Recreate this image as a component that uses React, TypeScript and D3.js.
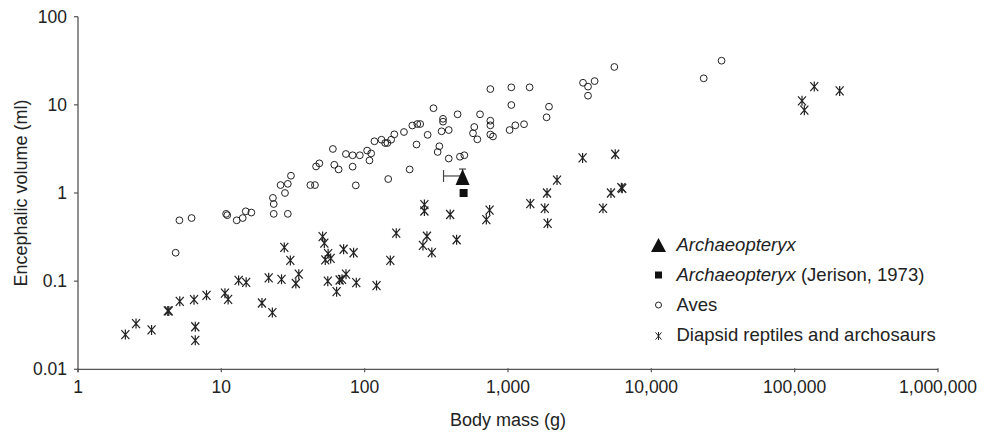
import * as d3 from 'd3';

// Body mass (g), encephalic volume (ml)
const avesData: [number, number][] = [
  [4.8, 0.21], [5.1, 0.49], [6.2, 0.52], [10.8, 0.58], [11, 0.56], [12.8, 0.49],
  [14.1, 0.52], [14.8, 0.62], [16.2, 0.6], [22.9, 0.88], [23.2, 0.75], [23.2, 0.58],
  [29.1, 0.58], [25.9, 1.23], [29.1, 1.27], [30.6, 1.57], [27.8, 1.0], [41.8, 1.23],
  [45, 1.23], [45.8, 2.0], [48.3, 2.17], [60, 3.16], [61.4, 2.09], [65.8, 1.85],
  [74, 2.77], [82.4, 2.68], [82.4, 1.99], [86.7, 1.22], [92.5, 2.68], [104, 3.03],
  [111, 2.81], [108, 2.34], [117, 3.86], [131, 4.02], [139, 3.69], [144, 3.69],
  [153, 4.02], [161, 4.63], [146, 1.44], [188, 4.92], [206, 1.85], [215, 5.83],
  [230, 3.55], [233, 6.06], [244, 6.06], [275, 4.57], [302, 9.16], [332, 3.39],
  [323, 2.92], [344, 5.01], [352, 6.94], [352, 6.44], [386, 5.18], [386, 2.46],
  [445, 7.81], [462, 2.58], [496, 2.68], [582, 5.61], [570, 4.76], [611, 4.06],
  [638, 7.81], [753, 15.1], [753, 6.61], [753, 5.86], [753, 4.61], [786, 4.38],
  [1055, 15.8], [1055, 9.96], [1026, 5.18], [1125, 5.86], [1294, 6.03], [1415, 15.8],
  [1859, 7.22], [1932, 9.53], [3337, 17.8], [3616, 16.1], [4020, 18.6], [3616, 12.7],
  [5520, 26.9], [23200, 20], [30900, 31.7],
];

const reptileData: [number, number][] = [
  [2.14, 0.0248], [2.54, 0.033], [3.26, 0.028], [4.3, 0.046], [4.23, 0.046],
  [5.13, 0.059], [6.45, 0.0616], [6.58, 0.0304], [6.58, 0.0213], [7.88, 0.069],
  [10.6, 0.073], [11.15, 0.062], [13.2, 0.102], [14.9, 0.097], [19.2, 0.0565],
  [21.4, 0.109], [22.7, 0.044], [26.3, 0.105], [27.5, 0.241], [30.3, 0.172],
  [33.1, 0.094], [34.7, 0.12], [50.9, 0.32], [52.3, 0.27], [55.6, 0.205],
  [53.1, 0.174], [57.9, 0.181], [71.3, 0.23], [83.7, 0.21], [55.3, 0.1],
  [63.7, 0.076], [66.9, 0.103], [69.5, 0.105], [74.1, 0.12], [87.4, 0.096],
  [121, 0.089], [151, 0.172], [166, 0.35], [261, 0.74], [261, 0.625],
  [255, 0.254], [272, 0.323], [294, 0.211], [395, 0.57], [438, 0.295],
  [706, 0.5], [744, 0.64], [1431, 0.756], [1806, 0.67], [1890, 0.453],
  [1872, 1.0], [2198, 1.4], [3315, 2.5], [5600, 2.75], [4600, 0.67],
  [5230, 1.0], [6270, 1.13], [6180, 1.15], [112500, 11.1], [116800, 8.7],
  [137000, 16.1], [206000, 14.4],
];

// Archaeopteryx estimate with its error bar ends
const archaeopteryx = { mass: 482, volume: 1.56, massLow: 355, volumeHigh: 1.87 };
const jerison = { mass: 490, volume: 1.0 };

const xTicks = [1, 10, 100, 1000, 10000, 100000, 1000000];
const yTicks = [0.01, 0.1, 1, 10, 100];
const yTickLabels = ['0.01', '0.1', '1', '10', '100'];

const legendItems = [
  { key: 'tri', italic: 'Archaeopteryx', rest: '' },
  { key: 'sq', italic: 'Archaeopteryx', rest: ' (Jerison, 1973)' },
  { key: 'circ', italic: '', rest: 'Aves' },
  { key: 'ast', italic: '', rest: 'Diapsid reptiles and archosaurs' },
];

const WIDTH = 984;
const HEIGHT = 433;
const PLOT = { left: 78, right: 938, top: 16.7, bottom: 369.3 };
const INK = '#222';
const AXIS = '#555';
const FONT = '"Liberation Sans", Arial, Helvetica, sans-serif';

const asteriskPath = (cx: number, cy: number, w: number, h: number) =>
  `M${cx},${cy - h}L${cx},${cy + h}` +
  `M${cx - w},${cy - h * 0.9}L${cx + w},${cy + h * 0.9}` +
  `M${cx + w},${cy - h * 0.9}L${cx - w},${cy + h * 0.9}`;

const trianglePath = (cx: number, cy: number, w: number, h: number) =>
  `M${cx},${cy - h / 2}L${cx + w / 2},${cy + h / 2}L${cx - w / 2},${cy + h / 2}Z`;

export default function App() {
  const x = d3.scaleLog().domain([1, 1e6]).range([PLOT.left, PLOT.right]);
  const y = d3.scaleLog().domain([0.01, 100]).range([PLOT.bottom, PLOT.top]);
  const fmt = d3.format(',');

  const ax = x(archaeopteryx.mass);
  const ay = y(archaeopteryx.volume);

  return (
    <div style={{ position: 'absolute', left: 0, top: 0 }}>
      <svg width={WIDTH} height={HEIGHT} style={{ display: 'block', background: '#fff' }} fontFamily={FONT}>
        {/* axes */}
        <line x1={PLOT.left} x2={PLOT.right} y1={PLOT.bottom} y2={PLOT.bottom} stroke={AXIS} strokeWidth={1.3} />
        <line x1={PLOT.left} x2={PLOT.left} y1={PLOT.top} y2={PLOT.bottom + 3} stroke={AXIS} strokeWidth={1.3} />

        {xTicks.map((t) => (
          <g key={t}>
            <line x1={x(t)} x2={x(t)} y1={PLOT.bottom - 1} y2={PLOT.bottom + 3} stroke={AXIS} strokeWidth={1.2} />
            <text x={x(t)} y={PLOT.bottom + 24} textAnchor="middle" fontSize={17.5} fill={INK}>
              {fmt(t)}
            </text>
          </g>
        ))}

        {yTicks.map((t, i) => (
          <g key={t}>
            <line x1={PLOT.left - 4} x2={PLOT.left} y1={y(t)} y2={y(t)} stroke={AXIS} strokeWidth={1.2} />
            <text x={PLOT.left - 11} y={y(t)} dy="0.35em" textAnchor="end" fontSize={17.5} fill={INK}>
              {yTickLabels[i]}
            </text>
          </g>
        ))}

        <text
          transform={`translate(27,${(PLOT.top + PLOT.bottom) / 2}) rotate(-90)`}
          textAnchor="middle"
          fontSize={18}
          fill={INK}
        >
          Encephalic volume (ml)
        </text>
        <text x={(PLOT.left + PLOT.right) / 2} y={426} textAnchor="middle" fontSize={18} fill={INK}>
          Body mass (g)
        </text>

        {/* reptiles */}
        {reptileData.map(([m, v], i) => (
          <path key={`r${i}`} d={asteriskPath(x(m), y(v), 4, 5)} stroke={INK} strokeWidth={1.2} fill="none" />
        ))}

        {/* birds */}
        {avesData.map(([m, v], i) => (
          <circle key={`a${i}`} cx={x(m)} cy={y(v)} r={3.4} fill="none" stroke={INK} strokeWidth={1} />
        ))}

        {/* Archaeopteryx */}
        <line x1={x(archaeopteryx.massLow)} x2={ax} y1={ay} y2={ay} stroke="#444" strokeWidth={1.2} />
        <line x1={x(archaeopteryx.massLow)} x2={x(archaeopteryx.massLow)} y1={ay - 6} y2={ay + 6} stroke="#444" strokeWidth={1.2} />
        <line x1={ax} x2={ax} y1={y(archaeopteryx.volumeHigh)} y2={ay} stroke="#444" strokeWidth={1.2} />
        <line x1={ax - 3.5} x2={ax + 3.5} y1={y(archaeopteryx.volumeHigh)} y2={y(archaeopteryx.volumeHigh)} stroke="#444" strokeWidth={1.2} />
        <path d={trianglePath(ax, ay + 1, 14, 16)} fill="#111" />
        <rect x={x(jerison.mass) - 4} y={y(jerison.volume) - 4} width={8} height={8} fill="#111" />

        {/* legend */}
        {legendItems.map((it, i) => {
          const cy = 245 + i * 30;
          const mx = 658.5;
          return (
            <g key={it.key}>
              {it.key === 'tri' && <path d={trianglePath(mx, cy, 15, 14)} fill="#111" />}
              {it.key === 'sq' && <rect x={mx - 3.5} y={cy - 3.5} width={7} height={7} fill="#111" />}
              {it.key === 'circ' && <circle cx={mx} cy={cy} r={3} fill="none" stroke={INK} strokeWidth={1} />}
              {it.key === 'ast' && <path d={asteriskPath(mx, cy + 1, 3, 4)} stroke={INK} strokeWidth={1} fill="none" />}
              <text x={676.5} y={cy} dy="0.35em" fontSize={18.5} fill={INK}>
                {it.italic && <tspan fontStyle="italic">{it.italic}</tspan>}
                {it.rest}
              </text>
            </g>
          );
        })}
      </svg>
    </div>
  );
}
